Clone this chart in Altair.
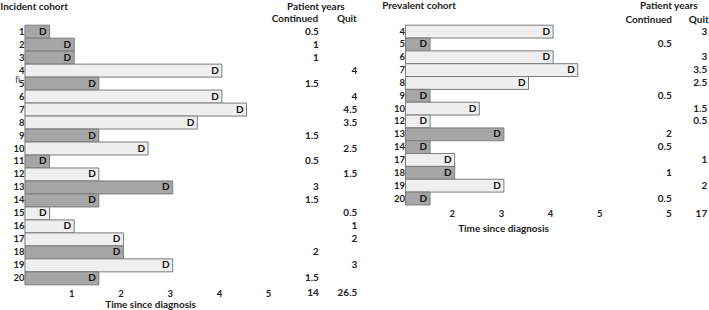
import altair as alt
import pandas as pd

# ---------------- data ----------------
inc_patients = [str(i) for i in range(1, 21)]
inc_years = [0.5, 1, 1, 4, 1.5, 4, 4.5, 3.5, 1.5, 2.5, 0.5, 1.5, 3, 1.5, 0.5, 1, 2, 2, 3, 1.5]
inc_status = ["Continued", "Continued", "Continued", "Quit", "Continued", "Quit", "Quit",
              "Quit", "Continued", "Quit", "Continued", "Quit", "Continued", "Continued",
              "Quit", "Quit", "Quit", "Continued", "Quit", "Continued"]
inc_entry = 0
inc_totals = ["14", "26.5"]
inc_ticks = [1, 2, 3, 4, 5]

prev_patients = ["4", "5", "6", "7", "8", "9", "10", "12", "13", "14", "17", "18", "19", "20"]
prev_years = [3, 0.5, 3, 3.5, 2.5, 0.5, 1.5, 0.5, 2, 0.5, 1, 1, 2, 0.5]
prev_status = ["Quit", "Continued", "Quit", "Quit", "Quit", "Continued", "Quit", "Quit",
               "Continued", "Continued", "Quit", "Continued", "Quit", "Continued"]
prev_entry = 1
prev_totals = ["5", "17"]
prev_ticks = [2, 3, 4, 5]

status_order = ["Continued", "Quit"]
status_fill = ["#a6a6a6", "#efefef"]

FONT = "Lato"
INK = "#222222"
FS = 10
UNIT = 49.3  # pixels per year


def label(text, x, y, align="center", size=FS, weight="bold", color=INK, font=FONT):
    return alt.Chart(pd.DataFrame({"t": [text]})).mark_text(
        align=align, baseline="middle", font=font, fontSize=size,
        fontWeight=weight, color=color
    ).encode(x=alt.value(x), y=alt.value(y), text="t:N")


def panel(patients, years, status, entry, totals, ticks, title, g, extra=None):
    df = pd.DataFrame({
        "patient": patients,
        "years": years,
        "status": status,
    })
    df["start"] = entry
    df["end"] = df["start"] + df["years"]
    df["lab"] = [f"{v:g}" for v in years]

    dmax = entry + g["w"] / UNIT
    base = alt.Chart(df)
    y_enc = alt.Y("patient:N", sort=patients,
                  scale=alt.Scale(paddingInner=0, paddingOuter=0),
                  axis=alt.Axis(title=None, ticks=False, domain=True, domainColor="#7f7f7f",
                                labelFont=FONT, labelFontSize=9.5, labelFontWeight="bold",
                                labelColor=INK, labelPadding=1))
    x_enc = alt.X("start:Q",
                  scale=alt.Scale(domain=[entry, dmax], nice=False, zero=False),
                  axis=alt.Axis(title=None, values=ticks, grid=False, domain=False,
                                ticks=False, labelFont=FONT, labelFontSize=9.5,
                                labelFontWeight="bold", labelColor=INK,
                                labelPadding=4, labelOffset=-3, labelFlush=False))
    bars = base.mark_bar(stroke="#7a7a7a", strokeWidth=1).encode(
        x=x_enc, x2="end:Q", y=y_enc,
        color=alt.Color("status:N", scale=alt.Scale(domain=status_order, range=status_fill),
                        legend=None),
    )
    dlab = base.mark_text(align="right", baseline="middle", dx=-3, font=FONT,
                          fontSize=FS, fontWeight="bold", color="#111111").encode(
        x="end:Q", y=y_enc, text=alt.value("D"))
    colc = base.transform_filter(alt.datum.status == "Continued").mark_text(
        align="right", baseline="middle", font=FONT, fontSize=FS, fontWeight="bold",
        color=INK).encode(x=alt.value(g["colC"]), y=y_enc, text="lab:N")
    colq = base.transform_filter(alt.datum.status == "Quit").mark_text(
        align="right", baseline="middle", font=FONT, fontSize=FS, fontWeight="bold",
        color=INK).encode(x=alt.value(g["colQ"]), y=y_enc, text="lab:N")

    layers = [bars, dlab, colc, colq,
              label(title, g["titleX"], g["titleY"], align="left"),
              label("Patient years", g["pyX"], g["titleY"]),
              label("Continued", g["contX"], g["subY"]),
              label("Quit", g["quitX"], g["subY"]),
              label(totals[0], g["colC"], g["totY"], align="right"),
              label(totals[1], g["colQ"], g["totY"], align="right"),
              label("Time since diagnosis", g["axX"], g["axY"])]
    if extra is not None:
        layers += extra
    return alt.layer(*layers).properties(width=g["w"], height=g["h"])


g_inc = dict(w=333, h=260, titleX=-24.7, titleY=-18, pyX=291.3, subY=-6,
             contX=270.3, quitX=322.3, colC=294.3, colQ=332.8, totY=268,
             axX=125.8, axY=280)
g_prev = dict(w=303, h=180, titleX=-23.3, titleY=-19.3, pyX=263.7, subY=-5.3,
              contX=243.7, quitX=293.7, colC=266.7, colQ=302.2, totY=189,
              axX=98.2, axY=203.7)

left = panel(inc_patients, inc_years, inc_status, inc_entry, inc_totals, inc_ticks,
             "Incident cohort", g_inc,
             extra=[label("fi", -7.2, 54.5, size=10, weight="normal", color="#444444",
                          font="Liberation Sans")])
right = panel(prev_patients, prev_years, prev_status, prev_entry, prev_totals, prev_ticks,
              "Prevalent cohort", g_prev)

chart = alt.hconcat(left, right, spacing=24, padding=0).configure_view(stroke=None)

chart.save("out.html", embed_options={"renderer": "svg", "actions": False})
